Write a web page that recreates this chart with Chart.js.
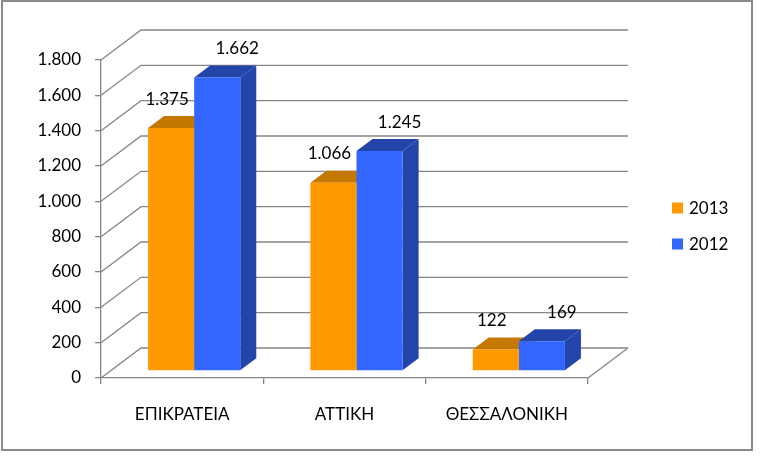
<!DOCTYPE html>
<html>
<head>
<meta charset="utf-8">
<script src="https://cdn.jsdelivr.net/npm/chart.js@4.4.0/dist/chart.umd.min.js"></script>
<style>
  html, body { margin: 0; padding: 0; background: #fff; }
</style>
</head>
<body>
<canvas id="myChart" width="761" height="458"></canvas>
<script>
// data
const regions = ["ΕΠΙΚΡΑΤΕΙΑ", "ΑΤΤΙΚΗ", "ΘΕΣΣΑΛΟΝΙΚΗ"];
const seriesNames = ["2013", "2012"];
const values2013 = [1375, 1066, 122];
const values2012 = [1662, 1245, 169];
const yMin = 0, yMax = 1800, yStep = 200;

const FONT = "Lato";
const GRID = "#868686";

// 3D look: wall depth, bar position inside the box, bar depth
const wall = { dx: 40, dy: -30 };
const shift = { dx: 12, dy: -7 };
const depth = { dx: 16, dy: -12 };

fmt = (v) => String(Math.round(v)).replace(/\B(?=(\d{3})+(?!\d))/g, ".");

const data = {
    labels: regions,
    datasets: [
        { label: seriesNames[0], data: values2013, backgroundColor: "#FF9900", darkColor: "#C47800", labelShift: -4 },
        { label: seriesNames[1], data: values2012, backgroundColor: "#3366FF", darkColor: "#2344A8", labelShift: 20 },
    ],
};

function barProps(chart, d, i) {
    return chart.getDatasetMeta(d).data[i].getProps(["x", "y", "base", "width"], true);
}

const threeD = {
    id: "threeD",
    beforeDraw(chart) {
        const ctx = chart.ctx;
        ctx.save();
        ctx.fillStyle = "#fff";
        ctx.fillRect(0, 0, chart.width, chart.height);
        ctx.strokeStyle = "#8a8a8a";
        ctx.lineWidth = 2;
        ctx.strokeRect(2, 1, 750, 449);
        ctx.restore();
    },
    beforeDatasetsDraw(chart) {
        const ctx = chart.ctx;
        const area = chart.chartArea;
        const ys = chart.scales.y;
        ctx.save();
        ctx.strokeStyle = GRID;
        ctx.lineWidth = 1.3;
        ys.ticks.forEach((t) => {
            const y = ys.getPixelForValue(t.value);
            ctx.beginPath();
            ctx.moveTo(area.left, y);
            ctx.lineTo(area.left + wall.dx, y + wall.dy);
            ctx.lineTo(area.right + wall.dx, y + wall.dy);
            ctx.stroke();
        });
        // floor, right edge
        ctx.beginPath();
        ctx.moveTo(area.right, area.bottom);
        ctx.lineTo(area.right + wall.dx, area.bottom + wall.dy);
        ctx.stroke();
        ctx.restore();

        // side and top faces, the library draws the fronts over them
        ctx.save();
        ctx.translate(shift.dx, shift.dy);
        for (let i = 0; i < regions.length; i++) {
            data.datasets.forEach((ds, d) => {
                const p = barProps(chart, d, i);
                const l = p.x - p.width / 2, r = p.x + p.width / 2;
                ctx.fillStyle = ds.darkColor;
                ctx.beginPath();
                ctx.moveTo(r, p.y);
                ctx.lineTo(r + depth.dx, p.y + depth.dy);
                ctx.lineTo(r + depth.dx, p.base + depth.dy);
                ctx.lineTo(r, p.base);
                ctx.closePath();
                ctx.fill();
                ctx.beginPath();
                ctx.moveTo(l, p.y);
                ctx.lineTo(l + depth.dx, p.y + depth.dy);
                ctx.lineTo(r + depth.dx, p.y + depth.dy);
                ctx.lineTo(r, p.y);
                ctx.closePath();
                ctx.fill();
            });
        }
    },
    afterDatasetsDraw(chart) {
        const ctx = chart.ctx;
        ctx.restore();

        ctx.save();
        ctx.font = "17px " + FONT;
        ctx.fillStyle = "#000";
        ctx.textAlign = "center";
        ctx.textBaseline = "middle";
        data.datasets.forEach((ds, d) => {
            ds.data.forEach((v, i) => {
                const p = barProps(chart, d, i);
                ctx.fillText(fmt(v), p.x + shift.dx + ds.labelShift, p.y + shift.dy - 29);
            });
        });

        // legend
        ctx.textAlign = "left";
        data.datasets.forEach((ds, d) => {
            const cy = 208 + d * 36;
            ctx.fillStyle = ds.backgroundColor;
            ctx.fillRect(672, cy - 5.5, 11, 11);
            ctx.fillStyle = "#000";
            ctx.fillText(ds.label, 689, cy + 1);
        });
        ctx.restore();
    },
};

const config = {
    type: "bar",
    data,
    plugins: [threeD],
    options: {
        responsive: false,
        animation: false,
        categoryPercentage: 0.568,
        barPercentage: 1,
        layout: {
            padding: { left: 0, top: 60, right: 173, bottom: 0 },
        },
        plugins: {
            legend: { display: false },
            tooltip: { enabled: false },
        },
        scales: {
            x: {
                afterFit: (s) => { s.height = 80; },
                grid: {
                    offset: true,
                    drawOnChartArea: false,
                    tickLength: 6,
                    color: GRID,
                    lineWidth: 1.3,
                },
                border: { color: GRID, width: 1.3 },
                ticks: {
                    color: "#000",
                    padding: 20,
                    maxRotation: 0,
                    font: { family: FONT, size: 17 },
                },
            },
            y: {
                min: yMin,
                max: yMax,
                afterFit: (s) => { s.width = 101; },
                grid: {
                    drawOnChartArea: false,
                    tickLength: 6,
                    color: GRID,
                    lineWidth: 1.3,
                },
                border: { color: GRID, width: 1.3 },
                ticks: {
                    stepSize: yStep,
                    color: "#000",
                    padding: 14,
                    font: { family: FONT, size: 17 },
                    callback: (v) => fmt(v),
                },
            },
        },
    },
};

const ctx = document.getElementById("myChart").getContext("2d");
const chart = new Chart(ctx, config);
</script>
</body>
</html>
